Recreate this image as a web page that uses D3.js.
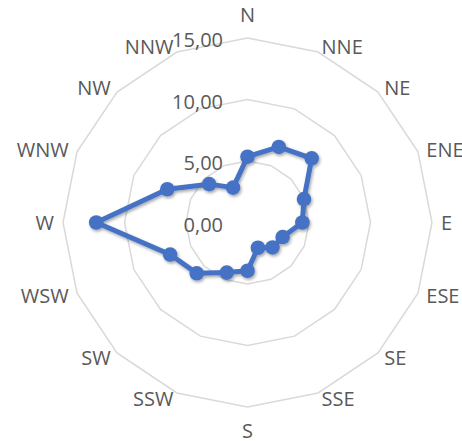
<!DOCTYPE html>
<html>
<head>
<meta charset="utf-8">
<script src="https://cdn.jsdelivr.net/npm/d3@7"></script>
<style>
  html, body { margin: 0; padding: 0; background: #ffffff; }
  svg { display: block; }
  text { font-family: "Open Sans", sans-serif; fill: #595959; }
</style>
</head>
<body>
<svg id="chart" width="462" height="441"></svg>
<script>
// Wind directions, clockwise from north
const directions = ["N", "NNE", "NE", "ENE", "E", "ESE", "SE", "SSE",
                    "S", "SSW", "SW", "WSW", "W", "WNW", "NW", "NNW"];
// Value for each direction
const values = [5.35, 6.65, 7.38, 4.97, 4.46, 3.09, 2.87, 2.22,
                3.92, 4.41, 5.84, 6.81, 12.3, 7.06, 4.41, 3.07];
// Radial axis ticks
const radialTicks = [0, 5, 10, 15];
const tickLabels = ["0,00", "5,00", "10,00", "15,00"];

const width = 462, height = 441;
const cx = 247.5, cy = 222.5;
const outerR = 184.5;

const svg = d3.select("#chart");
const g = svg.append("g").attr("transform", `translate(${cx},${cy})`);

const r = d3.scaleLinear().domain([0, 15]).range([0, outerR]);
const angle = d3.scalePoint()
  .domain(directions)
  .range([0, 2 * Math.PI * (directions.length - 1) / directions.length]);

// Soft shadow under the series
const defs = svg.append("defs");
const f = defs.append("filter").attr("id", "shadow")
  .attr("x", "-20%").attr("y", "-20%").attr("width", "140%").attr("height", "140%");
f.append("feDropShadow")
  .attr("dx", 1.2).attr("dy", 1.8).attr("stdDeviation", 1.6)
  .attr("flood-color", "#000").attr("flood-opacity", 0.35);

// Grid rings (polygons)
const ringLine = d3.lineRadial()
  .angle(d => angle(d))
  .curve(d3.curveLinearClosed);

g.append("g").attr("class", "grid")
  .selectAll("path")
  .data(radialTicks.filter(t => t > 0))
  .join("path")
  .attr("d", t => ringLine.radius(r(t))(directions))
  .attr("fill", "none")
  .attr("stroke", "#d9d9d9")
  .attr("stroke-width", 1.5);

// Radial tick labels
g.append("g").attr("class", "rticks")
  .selectAll("text")
  .data(radialTicks)
  .join("text")
  .attr("x", -24.5)
  .attr("y", t => -r(t) + 1.5)
  .attr("text-anchor", "end")
  .attr("dominant-baseline", "central")
  .attr("font-size", 20)
  .text((t, i) => tickLabels[i]);

// Direction labels
g.append("g").attr("class", "dirs")
  .selectAll("text")
  .data(directions)
  .join("text")
  .each(function (d) {
    const a = angle(d);
    const s = Math.sin(a), c = Math.cos(a);
    const vx = outerR * s, vy = -outerR * c;
    const t = d3.select(this);
    if (Math.abs(s) < 0.01) {
      t.attr("x", vx).attr("y", vy - c * 23.5).attr("text-anchor", "middle");
    } else {
      t.attr("x", vx + 9 * s).attr("y", vy - c * 6.5)
       .attr("text-anchor", s > 0 ? "start" : "end");
    }
  })
  .attr("dominant-baseline", "central")
  .attr("font-size", 20)
  .text(d => d);

// Series
const series = g.append("g").attr("class", "series").attr("filter", "url(#shadow)");
const line = d3.lineRadial()
  .angle((d, i) => angle(directions[i]))
  .radius(d => r(d))
  .curve(d3.curveLinearClosed);

series.append("path")
  .attr("d", line(values))
  .attr("fill", "none")
  .attr("stroke", "#4472c4")
  .attr("stroke-width", 5)
  .attr("stroke-linejoin", "round");

series.selectAll("circle")
  .data(values)
  .join("circle")
  .attr("cx", (d, i) => r(d) * Math.sin(angle(directions[i])))
  .attr("cy", (d, i) => -r(d) * Math.cos(angle(directions[i])))
  .attr("r", 7.3)
  .attr("fill", "#4472c4");
</script>
</body>
</html>
